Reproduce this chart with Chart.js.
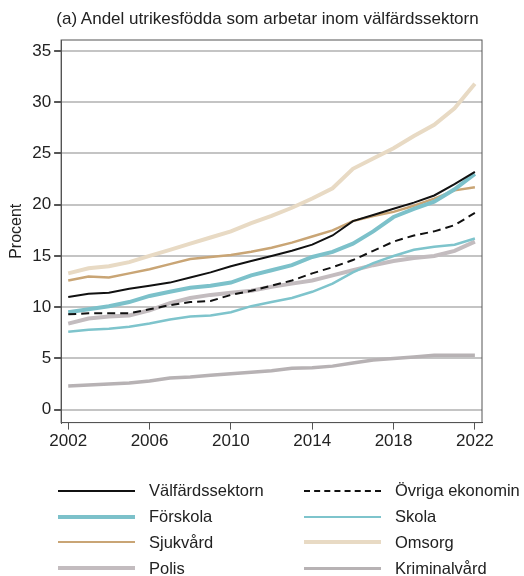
<!DOCTYPE html>
<html>
<head>
<meta charset="utf-8">
<script src="https://cdn.jsdelivr.net/npm/chart.js@4.4.1/dist/chart.umd.min.js"></script>
<style>
  body { margin: 0; background: #fff; font-family: "Liberation Sans", Arial, sans-serif; }
  #wrap { position: relative; width: 524px; height: 576px; }
  #titulo { position: absolute; left: 0; width: 535px; top: 9px; text-align: center;
            font-size: 17px; color: #222; white-space: nowrap; }
  #legend { position: absolute; left: 58px; top: 478px; display: grid;
            grid-template-columns: 246px 220px; grid-auto-rows: 25.8px; }
  .item { display: flex; align-items: center; font-size: 16.5px; color: #222; white-space: nowrap; }
  .swatch { width: 77px; margin-right: 14px; }
</style>
</head>
<body>
<div id="wrap">
  <canvas id="grafico" width="524" height="576"></canvas>
  <div id="titulo">(a) Andel utrikesfödda som arbetar inom välfärdssektorn</div>
  <div id="legend"></div>
</div>
<script>
const years = [2002, 2003, 2004, 2005, 2006, 2007, 2008, 2009, 2010, 2011, 2012,
               2013, 2014, 2015, 2016, 2017, 2018, 2019, 2020, 2021, 2022];
const xTicks = [2002, 2006, 2010, 2014, 2018, 2022];
const yTicks = [0, 5, 10, 15, 20, 25, 30, 35];

const valfard    = [11.0, 11.3, 11.4, 11.8, 12.1, 12.4, 12.9, 13.4, 14.0, 14.5, 15.0,
                    15.5, 16.1, 17.0, 18.4, 19.0, 19.6, 20.2, 20.9, 22.0, 23.2];
const ovriga     = [9.3, 9.4, 9.4, 9.4, 9.8, 10.2, 10.5, 10.6, 11.2, 11.6, 12.1,
                    12.6, 13.3, 13.9, 14.6, 15.5, 16.4, 17.0, 17.4, 18.0, 19.2];
const forskola   = [9.5, 9.8, 10.1, 10.5, 11.1, 11.5, 11.9, 12.1, 12.4, 13.1, 13.6,
                    14.1, 14.9, 15.4, 16.2, 17.4, 18.8, 19.6, 20.3, 21.5, 23.0];
const skola      = [7.6, 7.8, 7.9, 8.1, 8.4, 8.8, 9.1, 9.2, 9.5, 10.1, 10.5,
                    10.9, 11.5, 12.3, 13.4, 14.3, 15.0, 15.6, 15.9, 16.1, 16.7];
const sjukvard   = [12.6, 13.0, 12.9, 13.3, 13.7, 14.2, 14.7, 14.9, 15.1, 15.4, 15.8,
                    16.3, 16.9, 17.5, 18.4, 18.9, 19.3, 19.9, 20.6, 21.4, 21.7];
const omsorg     = [13.3, 13.8, 14.0, 14.4, 15.0, 15.6, 16.2, 16.8, 17.4, 18.2, 18.9,
                    19.7, 20.6, 21.6, 23.5, 24.5, 25.5, 26.7, 27.8, 29.4, 31.8];
const polis      = [8.4, 8.9, 9.1, 9.2, 9.7, 10.4, 10.9, 11.2, 11.4, 11.6, 12.0,
                    12.3, 12.6, 13.1, 13.6, 14.1, 14.5, 14.8, 15.0, 15.5, 16.4];
const kriminal   = [2.3, 2.4, 2.5, 2.6, 2.8, 3.1, 3.2, 3.35, 3.5, 3.65, 3.8,
                    4.05, 4.1, 4.25, 4.55, 4.85, 5.0, 5.15, 5.3, 5.3, 5.3];

const FUENTE = "'Liberation Sans', Arial, sans-serif";

function serie(label, values, color, width, dash) {
    return {
        label: label,
        data: values.map((v, i) => ({x: years[i], y: v})),
        borderColor: color,
        backgroundColor: color,
        borderWidth: width,
        borderDash: dash || [],
        pointRadius: 0,
        tension: 0,
        fill: false
    };
}

const datasets = [
    serie('Välfärdssektorn', valfard, '#111111', 2),
    serie('Övriga ekonomin', ovriga, '#111111', 2, [8, 5]),
    serie('Förskola', forskola, '#7cc1ca', 4),
    serie('Skola', skola, '#7ec4cc', 2.5),
    serie('Sjukvård', sjukvard, '#c9a575', 2.5),
    serie('Omsorg', omsorg, '#e8dac4', 4),
    serie('Polis', polis, '#c3bcbf', 4),
    serie('Kriminalvård', kriminal, '#b7b2b4', 3.5)
];

// marco alrededor del area del grafico
const marco = {
    id: 'marco',
    beforeDatasetsDraw(chart) {
        const a = chart.chartArea, ctx = chart.ctx;
        ctx.save();
        ctx.strokeStyle = '#555';
        ctx.lineWidth = 1;
        ctx.strokeRect(a.left, a.top, a.right - a.left, a.bottom - a.top);
        ctx.restore();
    }
};

const ctx = document.getElementById('grafico').getContext('2d');
const chart = new Chart(ctx, {
    type: 'line',
    data: { datasets: datasets },
    options: {
        responsive: false,
        animation: false,
        layout: { padding: { left: 7, right: 42, top: 40, bottom: 122 } },
        plugins: {
            legend: { display: false },
            tooltip: { enabled: false },
            title: { display: false }
        },
        scales: {
            x: {
                type: 'linear',
                min: 2001.65,
                max: 2022.35,
                afterBuildTicks: s => { s.ticks = xTicks.map(v => ({value: v})); },
                grid: { drawOnChartArea: false, color: '#555', tickLength: 7 },
                border: { color: '#555' },
                ticks: { color: '#222', font: { family: FUENTE, size: 17 }, padding: 2,
                         maxRotation: 0, callback: v => String(v) }
            },
            y: {
                min: -1.26,
                max: 36.07,
                afterBuildTicks: s => { s.ticks = yTicks.map(v => ({value: v})); },
                grid: { color: '#c4c4c4', lineWidth: 2, tickColor: '#555', tickLength: 7 },
                border: { color: '#555' },
                ticks: { color: '#222', font: { family: FUENTE, size: 17 }, padding: 3 },
                title: { display: true, text: 'Procent', color: '#222',
                         font: { family: FUENTE, size: 16 }, padding: { top: 0, bottom: 3 } }
            }
        }
    },
    plugins: [marco]
});

// leyenda en dos columnas
const leyenda = document.getElementById('legend');
for (const d of datasets) {
    const item = document.createElement('div');
    item.className = 'item';
    const linea = document.createElement('span');
    linea.className = 'swatch';
    const estilo = d.borderDash.length ? 'dashed' : 'solid';
    linea.style.borderTop = d.borderWidth + 'px ' + estilo + ' ' + d.borderColor;
    item.appendChild(linea);
    item.appendChild(document.createTextNode(d.label));
    leyenda.appendChild(item);
}
</script>
</body>
</html>
